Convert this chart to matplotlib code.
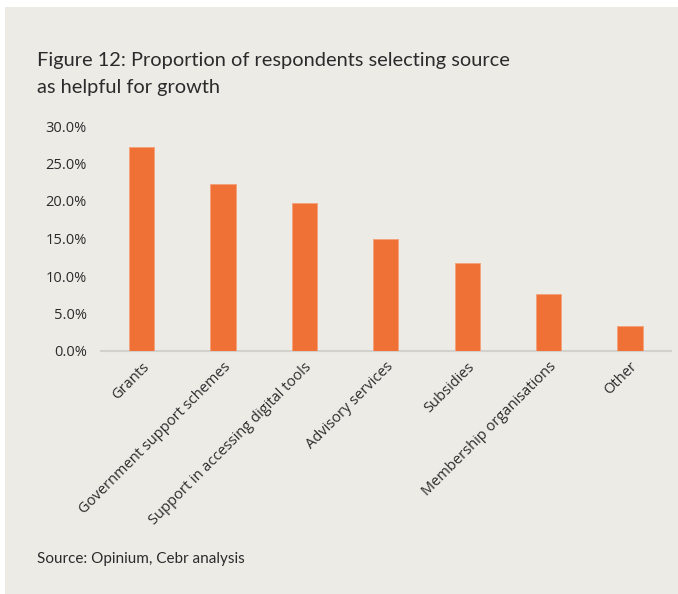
import matplotlib
matplotlib.use("Agg")
import matplotlib.pyplot as plt
from matplotlib.patches import Rectangle
from matplotlib.ticker import FuncFormatter

categories = ["Grants", "Government support schemes", "Support in accessing digital tools",
              "Advisory services", "Subsidies", "Membership organisations", "Other"]
values = [27.2, 22.2, 19.7, 14.9, 11.8, 7.6, 3.3]
yticks = [0, 5, 10, 15, 20, 25, 30]
title_lines = ["Figure 12: Proportion of respondents selecting source", "as helpful for growth"]
source = "Source: Opinium, Cebr analysis"

BG = "#ECEBE6"
BAR = "#F07135"
TXT = "#2B2B2B"

fig = plt.figure(figsize=(6.78, 5.94), dpi=100)
fig.patch.set_facecolor("white")
fig.patches.append(Rectangle((5/678, 0), 1, 1 - 7/594, transform=fig.transFigure,
                             facecolor=BG, edgecolor="none", zorder=-10))

ax = fig.add_axes([100.8/678, 1 - 351/594, (670.7 - 100.8)/678, (351 - 126)/594])
ax.set_facecolor("none")
x = range(len(categories))
ax.bar(x, values, width=0.31, color=BAR, edgecolor="#F5A27C", linewidth=0.7, zorder=3)
ax.set_xlim(-0.5, len(categories) - 0.5)
ax.set_ylim(0, 30)
ax.set_yticks(yticks)
ax.yaxis.set_major_formatter(FuncFormatter(lambda v, p: f"{v:.1f}%"))
for s in ["top", "right", "left"]:
    ax.spines[s].set_visible(False)
ax.spines["bottom"].set_color("#D2D1CC")
ax.spines["bottom"].set_linewidth(1.5)
ax.tick_params(axis="both", length=0, labelsize=10.5, labelcolor=TXT)
ax.tick_params(axis="y", pad=10)
ax.set_xticks(list(x))
ax.set_xticklabels(categories, rotation=45, ha="right", rotation_mode="anchor",
                   fontsize=10.5, color=TXT)
ax.tick_params(axis="x", pad=6)
for lab in ax.get_xticklabels() + ax.get_yticklabels():
    lab.set_family(["Open Sans", "DejaVu Sans"])

for i, line in enumerate(title_lines):
    fig.text(37/678, 1 - (66 + 26.5 * i)/594, line, fontsize=14.4, color=TXT,
             family=["Lato", "DejaVu Sans"], va="baseline")
fig.text(37/678, 1 - 563/594, source, fontsize=11, color=TXT,
         family=["Lato", "DejaVu Sans"], va="baseline")

fig.savefig("out.png", dpi=100, facecolor=fig.get_facecolor())
